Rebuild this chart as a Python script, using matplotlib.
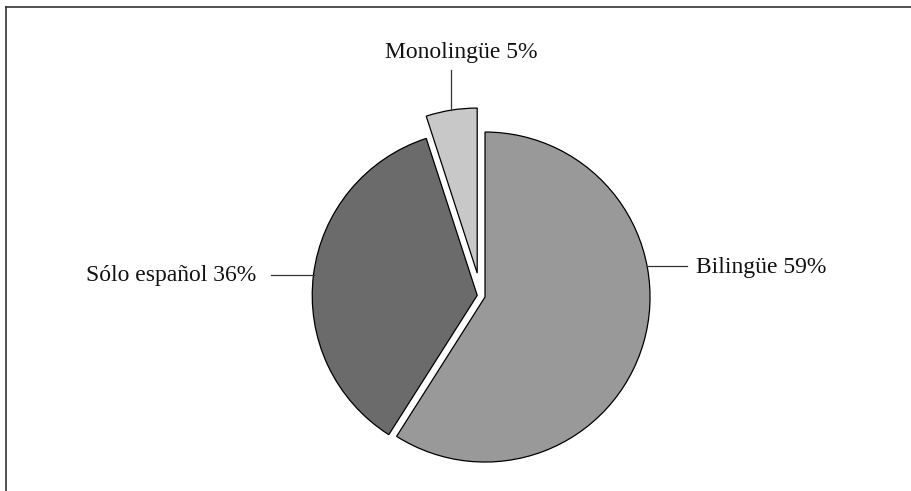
import numpy as np
import matplotlib
matplotlib.use("Agg")
import matplotlib.pyplot as plt
from matplotlib.lines import Line2D

# data
labels = ["Bilingüe", "Sólo español", "Monolingüe"]
shares = [59, 36, 5]
colors = ["#999999", "#6b6b6b", "#c8c8c8"]
explode = [4.4, 3.6, 23]  # pie offsets, in pixels (radius is 165)

W, H = 911, 491
fig = plt.figure(figsize=(W / 100, H / 100), dpi=100)
ax = fig.add_axes([0, 0, 1, 1])

wedges, _ = ax.pie(shares, startangle=90, counterclock=False, explode=explode,
                   colors=colors, radius=165, center=(480.8, 195.2),
                   wedgeprops=dict(edgecolor="black", linewidth=0.9))
ax.set_xlim(0, W)
ax.set_ylim(0, H)
ax.set_aspect("equal")
ax.axis("off")

font = dict(family="Liberation Serif", fontsize=17, color="#111111")


def edge_point(w, ang):
    cx, cy = w.center
    a = np.deg2rad(ang)
    return cx + w.r * np.cos(a), cy + w.r * np.sin(a)


# Bilingüe: leader to the right
x0, y0 = edge_point(wedges[0], 10.8)
ax.plot([x0, x0 + 40], [y0, y0], color="#333333", lw=0.9)
ax.text(x0 + 49, y0 - 1, f"{labels[0]} {shares[0]}%", ha="left", va="center", **font)

# Sólo español: leader to the left
w = wedges[1]
x0, y0 = edge_point(w, (w.theta1 + w.theta2) / 2)
ax.plot([x0, x0 - 43], [y0, y0], color="#333333", lw=0.9)
ax.text(x0 - 57, y0 - 1, f"{labels[1]} {shares[1]}%", ha="right", va="center", **font)

# Monolingüe: leader upward
w = wedges[2]
x0, y0 = edge_point(w, (w.theta1 + w.theta2) / 2)
ax.plot([x0, x0], [y0, y0 + 40], color="#333333", lw=0.9)
ax.text(x0 + 10, y0 + 58, f"{labels[2]} {shares[2]}%", ha="center", va="center", **font)

# frame (top and left edges visible)
fig.add_artist(Line2D([6 / W, 1], [1 - 7 / H, 1 - 7 / H], transform=fig.transFigure,
                      color="#333333", lw=1.2))
fig.add_artist(Line2D([6 / W, 6 / W], [0, 1 - 7 / H], transform=fig.transFigure,
                      color="#333333", lw=1.2))

fig.savefig("out.png", dpi=100, facecolor="white")
